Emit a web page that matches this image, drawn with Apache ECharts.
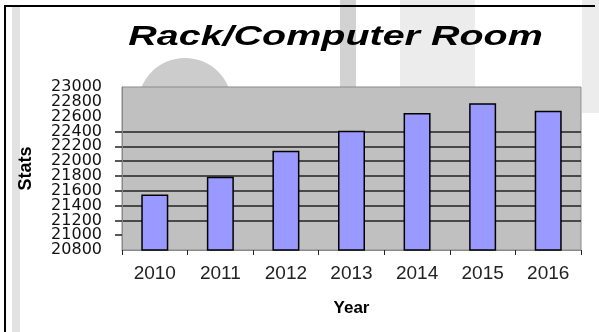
<!DOCTYPE html>
<html>
<head>
<meta charset="utf-8">
<title>Rack/Computer Room</title>
<script src="https://cdn.jsdelivr.net/npm/echarts@6/dist/echarts.min.js"></script>
<style>
  html, body { margin: 0; padding: 0; background: #ffffff; }
  #chart { width: 599px; height: 332px; }
</style>
</head>
<body>
<div id="chart"></div>
<script>
// Yearly stats for the rack / computer room
const years = ['2010', '2011', '2012', '2013', '2014', '2015', '2016'];
const stats = [21550, 21790, 22140, 22410, 22650, 22780, 22680];

// Value axis range and step
const yMin = 20800;
const yMax = 23000;
const yStep = 200;

// Horizontal rules (and their stubs) run only from 21000 up to 22400
const ruleFrom = 21000;
const ruleTo = 22400;

const ruleColors = [];
const ruleValues = [];
// tick labels are tightly packed, so they are split over two stacked axes
const labelsA = [];
const labelsB = [];
for (let v = yMin, i = 0; v <= yMax; v += yStep, i++) {
  const on = v >= ruleFrom && v <= ruleTo;
  ruleColors.push(on ? '#222222' : 'rgba(0,0,0,0)');
  if (on) ruleValues.push(v);
  (i % 2 === 0 ? labelsA : labelsB).push(v);
}

const gridTop = 87;
const gridBottom = 82;

const labelStyle = {
  margin: 20, color: '#111111', fontSize: 16,
  fontFamily: '"DejaVu Sans", sans-serif',
  showMinLabel: true, showMaxLabel: true,
  formatter: function (v) { return String(v); }
};

const chart = echarts.init(document.getElementById('chart'));

// faint slide decoration behind the chart
const backdrop = [
  { type: 'rect', shape: { x: 12, y: 7, width: 8, height: 325 }, style: { fill: '#e2e2e2' } },
  { type: 'rect', shape: { x: 340, y: 0, width: 16, height: 87 }, style: { fill: '#d2d2d2' } },
  { type: 'rect', shape: { x: 400, y: 0, width: 75, height: 87 }, style: { fill: '#ececec' } },
  { type: 'rect', shape: { x: 582, y: 0, width: 17, height: 113 }, style: { fill: '#ececec' } },
  { type: 'circle', shape: { cx: 185, cy: 105, r: 47 }, style: { fill: '#cccccc' } }
].map(function (el) { el.z = -10; el.silent = true; return el; });

chart.setOption({
  animation: false,
  backgroundColor: '#ffffff',
  grid: {
    left: 122, right: 18, top: gridTop, bottom: gridBottom,
    show: true, backgroundColor: '#c0c0c0',
    borderColor: '#8a8a8a', borderWidth: 1
  },
  graphic: backdrop.concat([
    {
      type: 'text', x: 335.5, y: 37.5, scaleX: 1.385, scaleY: 1,
      style: {
        text: 'Rack/Computer Room',
        font: 'italic bold 28.5px "Liberation Sans", Arial, sans-serif',
        fill: '#000000', align: 'center', verticalAlign: 'middle'
      }
    },
    {
      type: 'line', shape: { x1: 5, y1: 6, x2: 5, y2: 332 },
      style: { stroke: '#000000', lineWidth: 2 }
    },
    {
      type: 'line', shape: { x1: 4, y1: 6, x2: 595, y2: 6 },
      style: { stroke: '#000000', lineWidth: 2 }
    }
  ]),
  xAxis: {
    type: 'category', data: years,
    axisLine: { show: true, lineStyle: { color: '#8a8a8a', width: 1 } },
    axisTick: { show: true, alignWithLabel: false, length: 5, lineStyle: { color: '#222222', width: 1 } },
    axisLabel: {
      margin: 14, color: '#222222', fontSize: 19,
      fontFamily: '"Liberation Sans", Arial, sans-serif'
    },
    name: 'Year', nameLocation: 'middle', nameGap: 50,
    nameTextStyle: {
      color: '#000000', fontSize: 17, fontWeight: 'bold',
      fontFamily: '"Liberation Sans", Arial, sans-serif'
    }
  },
  yAxis: [
    {
      type: 'value', position: 'left', min: yMin, max: yMax, interval: yStep,
      axisLine: { show: true, lineStyle: { color: '#8a8a8a', width: 1 } },
      axisTick: {
        show: true, length: 7, customValues: ruleValues,
        lineStyle: { color: '#222222', width: 1.5 }
      },
      splitLine: { show: true, lineStyle: { color: ruleColors, width: 1.5 } },
      axisLabel: Object.assign({ customValues: labelsA }, labelStyle),
      name: 'Stats', nameLocation: 'middle', nameGap: 87, nameRotate: 90,
      nameTextStyle: {
        color: '#000000', fontSize: 18, fontWeight: 'bold',
        fontFamily: '"Liberation Sans", Arial, sans-serif'
      }
    },
    {
      type: 'value', position: 'left', offset: 0, min: yMin, max: yMax, interval: yStep,
      axisLine: { show: false }, axisTick: { show: false }, splitLine: { show: false },
      axisLabel: Object.assign({ customValues: labelsB }, labelStyle)
    }
  ],
  series: [
    {
      type: 'bar', data: stats, yAxisIndex: 0,
      barWidth: 27,
      itemStyle: { color: '#9999ff', borderColor: '#000000', borderWidth: 1.5 }
    }
  ]
});
</script>
</body>
</html>
